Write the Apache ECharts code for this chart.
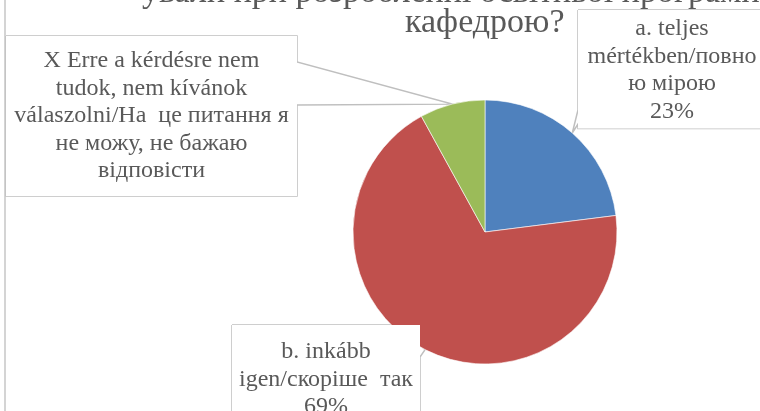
<!DOCTYPE html>
<html>
<head>
<meta charset="utf-8">
<script src="https://cdn.jsdelivr.net/npm/echarts@6/dist/echarts.min.js"></script>
<style>
  html, body { margin: 0; padding: 0; background: #fff; }
  #chart { width: 760px; height: 411px; }
</style>
</head>
<body>
<div id="chart"></div>
<script>
// данные
const categories = [
  'a. teljes\nmértékben/повно\nю мірою',
  'b. inkább\nigen/скоріше  так',
  'X Erre a kérdésre nem\ntudok, nem kívánok\nválaszolni/На  це питання я\nне можу, не бажаю\nвідповісти'
]
const values = [23, 69, 8]
const showPercent = [true, true, false]
const colors = ['#4F81BD', '#C0504D', '#9BBB59']

const titleLine1 = 'ували при розробленні освітньої програми вашою'
const titleLine2 = 'кафедрою?'

// выноски: центр x, верх, ширина, отступы, сторона и высота основания клина
const boxes = [
  { cx: 672, top: 10, width: 188, padding: [5, 0, 3, 0], side: 'left', base: [110, 124] },
  { cx: 326, top: 325, width: 188, padding: [13, 0, 8, 0], side: 'right', base: [345, 357] },
  { cx: 151.5, top: 36, width: 291, padding: [11, 0, 11, 0], side: 'right', base: [62, 105] }
]

const center = [485, 232]
const radius = 132
const serif = 'Liberation Serif'

const chart = echarts.init(document.getElementById('chart'))

// контур выноски с клином к сектору
const calloutPath = (r, b, tip) => {
  const x0 = r.x, y0 = r.y, x1 = r.x + r.width, y1 = r.y + r.height
  if (b.side === 'right') {
    return [[x0, y0], [x1, y0], [x1, b.base[0]], tip, [x1, b.base[1]], [x1, y1], [x0, y1], [x0, y0]]
  }
  return [[x0, y0], [x1, y0], [x1, y1], [x0, y1], [x0, b.base[1]], tip, [x0, b.base[0]], [x0, y0]]
}

const option = {
  animation: false,
  title: [
    {
      text: titleLine1,
      left: 142,
      top: -24,
      padding: 0,
      textStyle: { fontFamily: serif, fontSize: 34, fontWeight: 'normal', color: '#595959' }
    },
    {
      text: titleLine2,
      left: 405,
      top: 6,
      padding: 0,
      textStyle: { fontFamily: serif, fontSize: 34, fontWeight: 'normal', color: '#595959' }
    }
  ],
  graphic: [
    {
      type: 'line',
      shape: { x1: 5, y1: 0, x2: 5, y2: 411 },
      style: { stroke: '#d4d4d4', lineWidth: 2 }
    }
  ],
  series: [
    {
      type: 'pie',
      center: center,
      radius: radius,
      startAngle: 90,
      clockwise: true,
      emphasis: { disabled: true },
      itemStyle: { borderColor: '#fff', borderWidth: 0.6 },
      label: {
        show: true,
        fontFamily: serif,
        fontSize: 24,
        lineHeight: 27.6,
        color: '#595959',
        align: 'center',
        backgroundColor: '#fff',
        overflow: 'none',
        formatter: (p) => p.name + (showPercent[p.dataIndex] ? '\n' + Math.round(p.percent) + '%' : '')
      },
      labelLine: {
        show: true,
        showAbove: true,
        length: 10,
        length2: 10,
        lineStyle: { color: '#bfbfbf', width: 1.5 }
      },
      labelLayout: (p) => {
        const b = boxes[p.dataIndex]
        let tip
        if (p.labelLinePoints && p.labelLinePoints.length) {
          tip = p.labelLinePoints[0]
        } else {
          const total = values.reduce((s, v) => s + v, 0)
          let before = 0
          for (let i = 0; i < p.dataIndex; i++) before += values[i]
          const ang = (before + values[p.dataIndex] / 2) / total * Math.PI * 2
          tip = [center[0] + radius * Math.sin(ang), center[1] - radius * Math.cos(ang)]
        }
        const w = p.labelRect.width
        const h = p.labelRect.height
        const rect = { x: b.cx - w / 2, y: b.top, width: w, height: h }
        return {
          x: b.cx,
          y: b.top,
          align: 'center',
          verticalAlign: 'top',
          labelLinePoints: calloutPath(rect, b, tip)
        }
      },
      data: values.map((v, i) => ({
        value: v,
        name: categories[i],
        itemStyle: { color: colors[i] },
        label: {
          width: boxes[i].width,
          padding: boxes[i].padding
        }
      }))
    }
  ]
}

chart.setOption(option)
</script>
</body>
</html>
